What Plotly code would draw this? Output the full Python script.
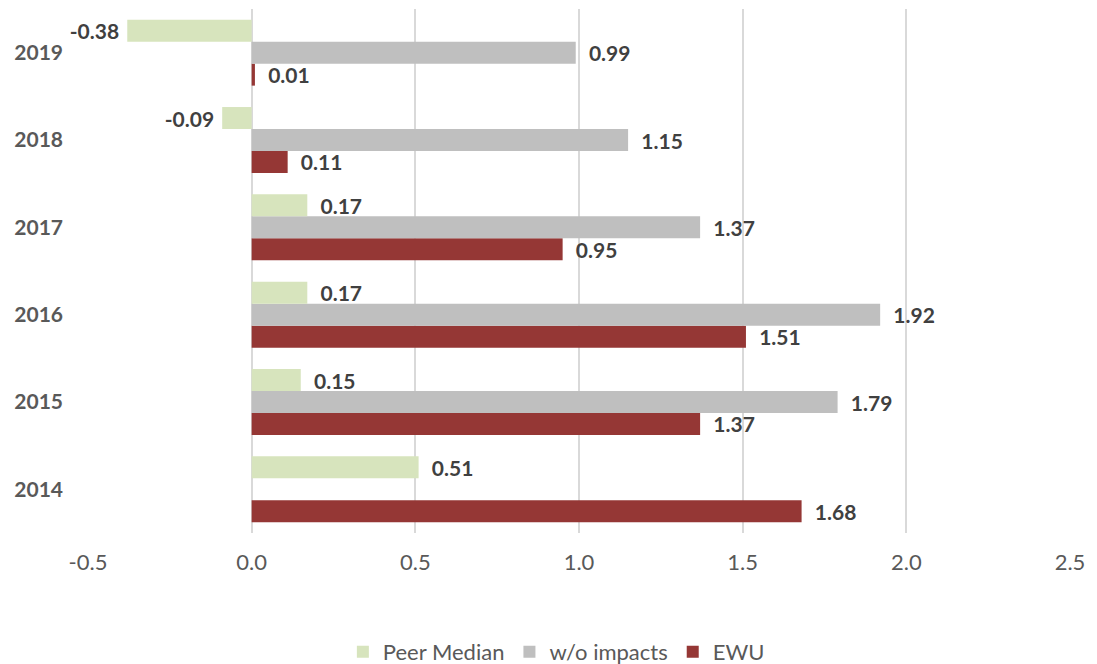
import plotly.graph_objects as go

years = ["2014", "2015", "2016", "2017", "2018", "2019"]
peer_median = [0.51, 0.15, 0.17, 0.17, -0.09, -0.38]
wo_impacts = [None, 1.79, 1.92, 1.37, 1.15, 0.99]
ewu = [1.68, 1.37, 1.51, 0.95, 0.11, 0.01]
x_ticks = [-0.5, 0.0, 0.5, 1.0, 1.5, 2.0, 2.5]


def labels(vals):
    out = []
    for v in vals:
        if v is None:
            out.append("")
        elif v < 0:
            out.append(f"{v:.2f} ")
        else:
            out.append(f"  {v:.2f}")
    return out


font_family = "Lato, 'Open Sans', sans-serif"
label_font = dict(family=font_family, size=21, color="#404040", weight="bold")

fig = go.Figure()

# plotly puts the first trace at the bottom of each group
for name, vals, color in [
    ("EWU", ewu, "#953735"),
    ("w/o impacts", wo_impacts, "#bfbfbf"),
    ("Peer Median", peer_median, "#d7e4bd"),
]:
    fig.add_trace(go.Bar(
        y=years,
        x=vals,
        name=name,
        orientation="h",
        marker=dict(color=color, line=dict(width=0)),
        text=labels(vals),
        textposition="outside",
        constraintext="none",
        textfont=label_font,
        cliponaxis=False,
    ))

# page body has an 8px margin, so the figure is a bit smaller than the window
fig.update_layout(
    width=1089,
    height=656,
    barmode="group",
    bargap=0.245,
    bargroupgap=0,
    plot_bgcolor="white",
    paper_bgcolor="white",
    margin=dict(l=79, r=26, t=1, b=131, autoexpand=False),
    font=dict(family=font_family, size=21, color="#595959"),
    legend=dict(
        orientation="h",
        traceorder="reversed",
        x=0.477, xanchor="center",
        y=-0.227, yanchor="middle",
        font=dict(size=22, color="#595959"),
        itemwidth=30,
    ),
)

fig.update_xaxes(
    range=[-0.503, 2.503],
    tickvals=x_ticks,
    ticktext=[f"{v:.1f}" for v in x_ticks],
    showgrid=True,
    gridcolor="#d9d9d9",
    gridwidth=2,
    zeroline=True,
    zerolinecolor="#d9d9d9",
    zerolinewidth=2,
    showline=False,
    ticks="",
    ticklabelstandoff=14,
    tickfont=dict(size=22, color="#595959"),
)

fig.update_yaxes(
    type="category",
    categoryorder="array",
    categoryarray=years,
    showgrid=False,
    zeroline=False,
    showline=False,
    ticks="",
    ticklabelstandoff=23,
    tickfont=dict(size=21, color="#595959", weight="bold"),
)

fig.write_html("out.html")
